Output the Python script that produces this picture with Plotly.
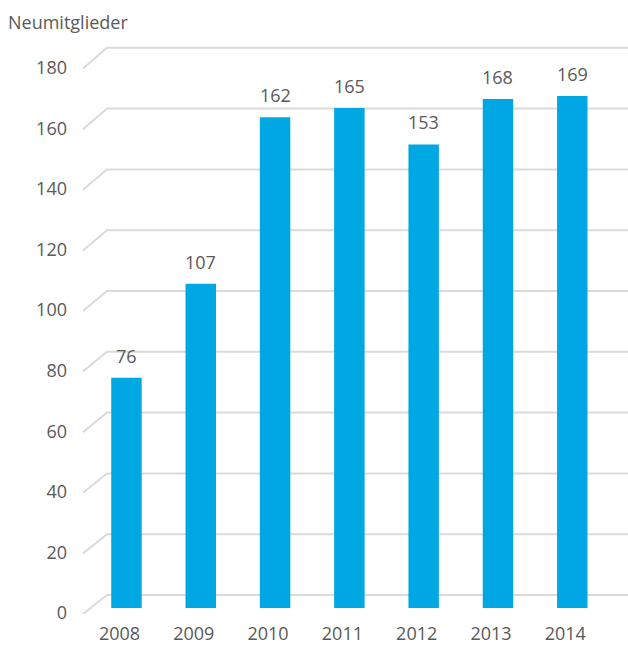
import plotly.graph_objects as go

years = ["2008", "2009", "2010", "2011", "2012", "2013", "2014"]
members = [76, 107, 162, 165, 153, 168, 169]
y_ticks = [0, 20, 40, 60, 80, 100, 120, 140, 160, 180]
title_text = "Neumitglieder"

BLUE = "#00A8E3"
GRID = "#DADADA"
TXT = "#595959"
FONT = "Open Sans"

W, H = 628, 646
M_L, M_R, M_T, M_B = 83, 0, 40, 32
BAR_SCALE = 3.03      # px per unit for the bars plane
FRONT_OFF = -6        # px offset of the front plane vs. bar plane
BACK_OFF = 13         # px offset of the back wall vs. bar plane (at 0)
BACK_SCALE = 3.04     # px per unit on the back wall
DIAG_X = (107 - M_L) / (W - M_L - M_R)

plot_h = H - M_T - M_B
y_lo = -6 / BAR_SCALE
y_hi = y_lo + plot_h / BAR_SCALE

fig = go.Figure()
fig.add_trace(go.Bar(
    x=years, y=members, marker=dict(color=BLUE, line=dict(width=0)),
    hoverinfo="x+y",
))

shapes = []
for v in y_ticks:
    yf = (v * BAR_SCALE + FRONT_OFF) / BAR_SCALE
    yb = (v * BACK_SCALE + BACK_OFF) / BAR_SCALE
    shapes.append(dict(
        type="path", xref="paper", yref="y", layer="below",
        path=f"M0,{yf} L{DIAG_X},{yb} L1,{yb}",
        line=dict(color=GRID, width=2),
    ))

annotations = []
for i, v in enumerate(members):
    annotations.append(dict(
        x=i, y=v, xref="x", yref="y", text=str(v), showarrow=False,
        xanchor="center", yanchor="middle", yshift=22,
        font=dict(family=FONT, size=18, color=TXT),
    ))

fig.update_layout(
    template="none",
    width=W, height=H,
    margin=dict(l=M_L, r=M_R, t=M_T, b=M_B, pad=0),
    paper_bgcolor="white", plot_bgcolor="white",
    showlegend=False, bargap=0.59,
    shapes=shapes, annotations=annotations,
    title=dict(text=title_text, x=8 / W, xanchor="left", xref="container",
               y=1 - 23 / H, yanchor="middle", yref="container",
               font=dict(family=FONT, size=18, color=TXT)),
    xaxis=dict(type="category", range=[-0.585, 6.75], showgrid=False,
               zeroline=False, showline=False, ticks="", automargin=False,
               ticklabelshift=-7, ticklabelstandoff=7,
               tickfont=dict(family=FONT, size=18, color=TXT)),
    yaxis=dict(range=[y_lo, y_hi], tickvals=y_ticks, showgrid=False,
               zeroline=False, showline=False, ticks="", automargin=False,
               ticklabelshift=5, ticklabelstandoff=15,
               tickfont=dict(family=FONT, size=18, color=TXT)),
)

fig.write_html("out.html")
